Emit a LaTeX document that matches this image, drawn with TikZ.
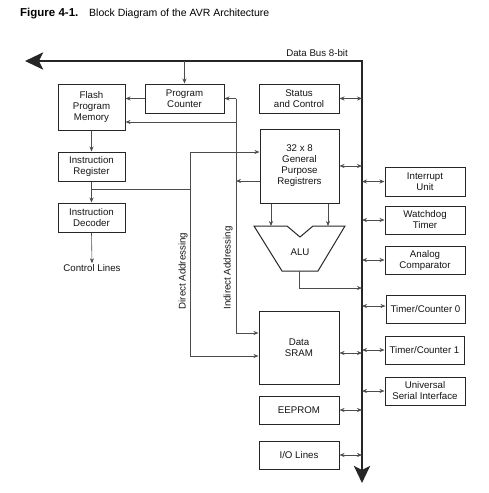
\documentclass[tikz,border=0pt]{standalone}
\usepackage{fontspec}
\setmainfont{Liberation Sans}
\usetikzlibrary{arrows.meta}
\begin{document}
\begin{tikzpicture}[x=1pt,y=-1pt,
  box/.style={draw=black!85, line width=1pt, inner sep=0pt, align=center,
    font=\fontsize{9.7}{11}\selectfont, text=black!92},
  lbl/.style={inner sep=1pt, font=\fontsize{9.7}{11}\selectfont, text=black!92},
  thin/.style={draw=black!70, line width=0.6pt},
  arr/.style={thin, -{Stealth[length=5pt,width=4pt]}},
  darr/.style={thin, {Stealth[length=5pt,width=4pt]}-{Stealth[length=5pt,width=4pt]}},
  bus/.style={draw=black!85, line width=2.8pt, {Stealth[length=18pt,width=17pt,inset=4pt]}-{Stealth[length=17pt,width=16pt,inset=4pt]}}
]
\useasboundingbox (0,0) rectangle (489,493);
% title
\node[anchor=base west, inner sep=0pt, font=\fontsize{11.5}{13}\selectfont\bfseries] (fig) at (20,16) {Figure 4-1.};
\node[anchor=base west, inner sep=0pt, font=\fontsize{10.5}{12}\selectfont] (title) at (89,16) {Block Diagram of the AVR Architecture};

% bus
\coordinate (busL) at (25,61);
\coordinate (busC) at (362,61);
\coordinate (busB) at (362,483);
\draw[bus] (busL) -- (busC) -- (busB);
\node[lbl, anchor=base east, inner sep=0pt] (buslbl) at (348,56) {Data Bus 8-bit};

% boxes
\node[box, minimum width=67pt, minimum height=46pt] (flash) at (91.5,107) {Flash\\Program\\Memory};
\node[box, minimum width=79pt, minimum height=29pt] (pc) at (184.5,98.5) {Program\\Counter};
\node[box, minimum width=80pt, minimum height=29pt] (status) at (299,98.5) {Status\\and Control};
\node[box, minimum width=67pt, minimum height=29pt] (ir) at (91.5,166.5) {Instruction\\Register};
\node[box, minimum width=67pt, minimum height=29pt] (dec) at (91.5,217.5) {Instruction\\Decoder};
\node[lbl] (ctrl) at (92,268) {Control Lines};
\node[box, minimum width=79pt, minimum height=74pt] (regs) at (299.5,166) {32 x 8\\General\\Purpose\\Registrers};
\node[box, minimum width=80pt, minimum height=29pt] (int) at (425,181.5) {Interrupt\\Unit};
\node[box, minimum width=80pt, minimum height=28pt] (wdt) at (425,220) {Watchdog\\Timer};
\node[box, minimum width=80pt, minimum height=28pt] (ac) at (425,260) {Analog\\Comparator};
\node[box, minimum width=79pt, minimum height=28pt] (tc0) at (425.5,309) {Timer/Counter 0};
\node[box, minimum width=79pt, minimum height=28pt] (tc1) at (424.5,350) {Timer/Counter 1};
\node[box, minimum width=80pt, minimum height=28pt] (usi) at (425,391) {Universal\\Serial Interface};
\node[box, minimum width=80pt, minimum height=73pt] (sram) at (299,347.5) {Data\\SRAM};
\node[box, minimum width=80pt, minimum height=28pt] (eeprom) at (299,410) {EEPROM};
\node[box, minimum width=80pt, minimum height=28pt] (io) at (299,455) {I/O Lines};

% ALU
\draw[draw=black!85, line width=1pt] (254,226) -- (287,226) -- (300,237) -- (313,226) -- (345,226) -- (318,271) -- (282,271) -- cycle;
\node[lbl] (alu) at (300,252) {ALU};
\coordinate (aluL) at (271,226);
\coordinate (aluR) at (328,226);
\coordinate (aluB) at (299,271);
\draw[arr] (regs.south -| aluL) -- (aluL);
\draw[arr] (regs.south -| aluR) -- (aluR);
\coordinate (aluturn) at (299,288);
\draw[arr] (aluB) -- (aluturn) -- (aluturn -| busC);

% left column arrows
\draw[arr] (busC -| pc.north) -- (pc.north);
\draw[arr] (pc.west) -- (pc.west -| flash.east);
\draw[arr] (flash.south) -- (ir.north);
\draw[arr] (ir.south) -- (dec.north);
\draw[arr] (dec.south) -- (ctrl.north);

% indirect addressing
\coordinate (indT) at (236,98.5);
\coordinate (indB) at (236,333);
\coordinate (indR) at (236,181);
\draw[arr] (regs.west |- indR) -- (indR);
\draw[thin] (indT) -- (indB);
\draw[arr] (indT) -- (pc.east);
\coordinate (indF) at (236,122);
\draw[arr] (indF) -- (indF -| flash.east);
\draw[arr] (indB) -- (indB -| sram.west);
\node[lbl, rotate=90] (indlbl) at (228,268) {Indirect Addressing};

% direct addressing
\coordinate (dirT) at (190,152);
\coordinate (dirB) at (190,356);
\coordinate (dirM) at (190,189);
\draw[thin] (dirM -| ir.south) -- (dirM);
\draw[thin] (dirT) -- (dirB);
\draw[arr] (dirT) -- (dirT -| regs.west);
\draw[arr] (dirB) -- (dirB -| sram.west);
\node[lbl, rotate=90] (dirlbl) at (183,271) {Direct Addressing};

% bus connections
\draw[darr] (status.east) -- (status.east -| busC);
\draw[darr] (regs.east) -- (regs.east -| busC);
\draw[darr] (int.west) -- (int.west -| busC);
\draw[darr] (wdt.west) -- (wdt.west -| busC);
\draw[darr] (ac.west) -- (ac.west -| busC);
\coordinate (tc0y) at (0,306);
\draw[darr] (tc0.west |- tc0y) -- (tc0y -| busC);
\draw[darr] (tc1.west) -- (tc1.west -| busC);
\draw[darr] (usi.west) -- (usi.west -| busC);
\coordinate (sramy) at (0,353);
\draw[darr] (sram.east |- sramy) -- (sramy -| busC);
\draw[darr] (eeprom.east) -- (eeprom.east -| busC);
\draw[darr] (io.east) -- (io.east -| busC);
\end{tikzpicture}
\end{document}
